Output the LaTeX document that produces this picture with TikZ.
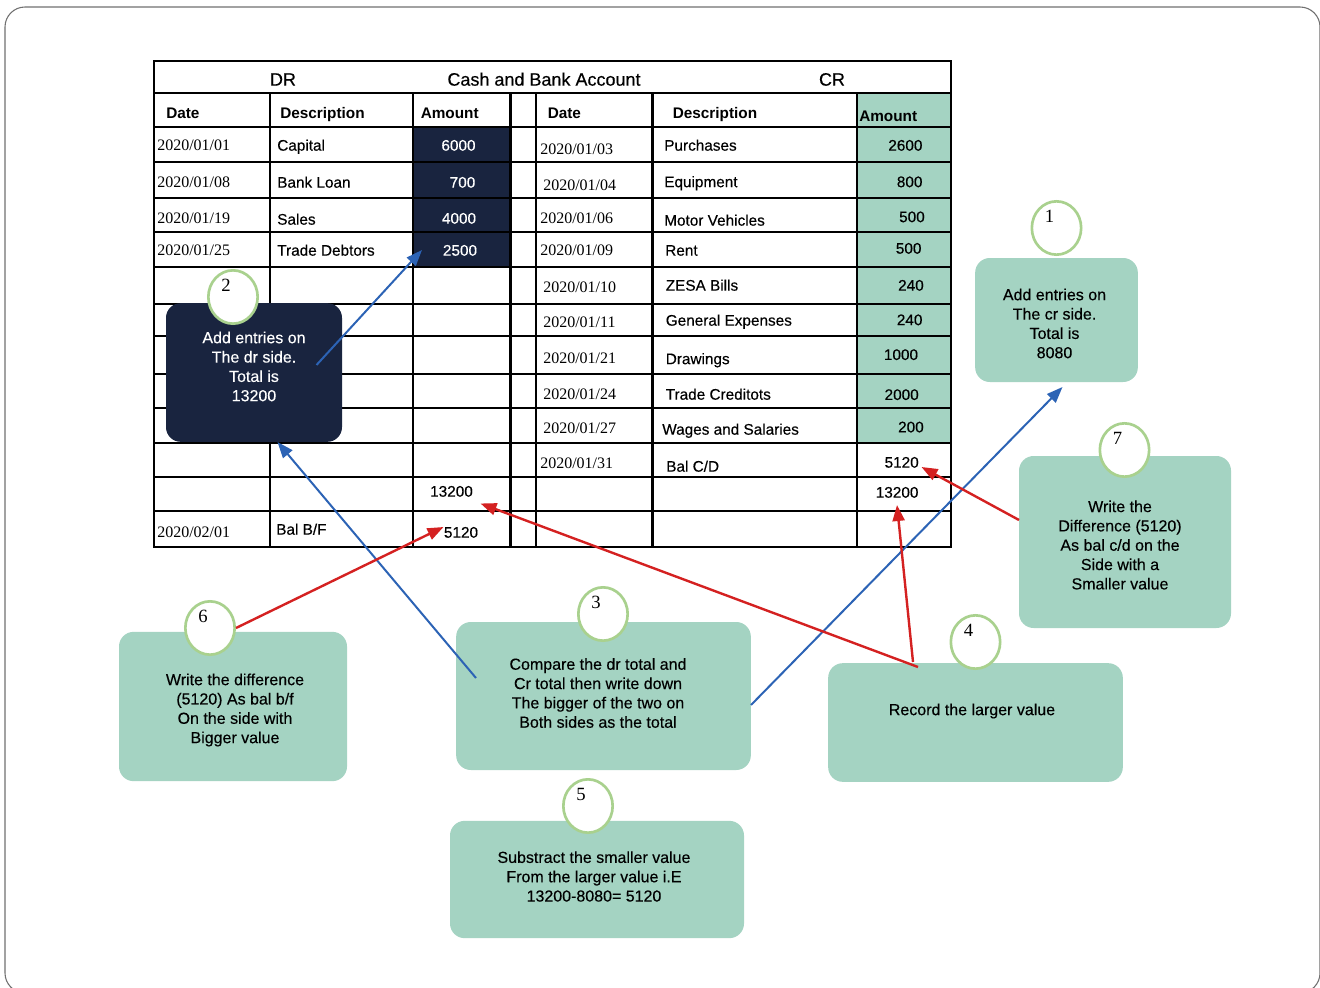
\documentclass[tikz,border=0pt]{standalone}
\usepackage{fontspec}
\setmainfont{Liberation Sans}
\newfontfamily\medsans{Liberation Sans}[FakeBold=0.3]
\newfontfamily\datefont{Liberation Serif}
\usepackage{tikz}
\usetikzlibrary{shapes.geometric,arrows.meta}
\definecolor{navy}{HTML}{19243F}
\definecolor{mint}{HTML}{A4D3C2}
\definecolor{ringgreen}{HTML}{A9D18E}
\definecolor{arrowblue}{HTML}{2C63B5}
\definecolor{arrowred}{HTML}{D42121}
\definecolor{framegray}{HTML}{707070}
\tikzstyle{cell} = [inner sep=0pt, text height=8.5pt, text depth=2.5pt, yshift=-2pt, font=\fontsize{11.5}{13}\medsans]
\tikzstyle{headcell} = [cell, font=\fontsize{11.5}{13}\selectfont\bfseries]
\tikzstyle{datecell} = [inner sep=0pt, text height=8.5pt, text depth=2.5pt, yshift=-2pt, font=\fontsize{12}{14}\datefont]
\tikzstyle{navybox} = [fill=navy, rounded corners=11pt]
\tikzstyle{greenbox} = [fill=mint, rounded corners=11pt]
\tikzstyle{boxtext} = [align=center, inner sep=0pt, font=\fontsize{12}{14.5}\medsans]
\tikzstyle{ring} = [ellipse, draw=ringgreen, line width=2pt, fill=white, minimum width=37pt, minimum height=40pt]
\tikzstyle{ringnum} = [inner sep=0pt, font=\fontsize{14}{16}\datefont]
\tikzstyle{bluearrow} = [draw=arrowblue, line width=1.5pt, -{Triangle[length=12pt,width=9pt]}]
\tikzstyle{redarrow} = [draw=arrowred, line width=1.8pt, -{Triangle[length=12pt,width=9pt]}]

\begin{document}
\begin{tikzpicture}[x=0.75pt, y=-0.75pt]
      \useasboundingbox (0,0) rectangle (1320,988);
      \clip (0,0) rectangle (1320,988);
      \draw[framegray, line width=0.8pt, rounded corners=15pt] (5,7) rectangle (1320,993);

      % shaded amount columns
      \fill[navy] (413,127) rectangle (510.5,267);
      \fill[mint] (857,93) rectangle (951,443);

      % ruling of the account
      \draw[line width=2.2pt] (154,61) rectangle (951,547);
      \draw[line width=2.2pt] (154,93) -- (951,93) (154,127) -- (951,127)
            (154,162) -- (951,162) (154,198) -- (951,198)
            (154,232) -- (951,232) (154,267) -- (951,267)
            (154,304) -- (951,304) (154,336) -- (951,336)
            (154,374) -- (951,374) (154,408) -- (951,408)
            (154,443) -- (951,443) (154,477) -- (951,477)
            (154,511) -- (951,511);
      \draw[line width=2.2pt] (270,93) -- (270,547) (413,93) -- (413,547)
            (510.5,93) -- (510.5,547) (536,93) -- (536,547)
            (652.5,93) -- (652.5,547) (857,93) -- (857,547);

      \node[cell, font=\fontsize{13.5}{15}\medsans] (title-dr) at (283,79) {DR};
      \node[cell, font=\fontsize{13.5}{15}\medsans] (title-acc) at (544,79) {Cash and Bank Account};
      \node[cell, font=\fontsize{13.5}{15}\medsans] (title-cr) at (832,79) {CR};

      \node[headcell, anchor=west] (dr-h-date) at (166,112) {Date};
      \node[headcell, anchor=west] (dr-h-desc) at (280,112) {Description};
      \node[headcell, anchor=west] (dr-h-amt) at (420.5,112) {Amount};
      \node[headcell, anchor=west] (cr-h-date) at (547.5,112) {Date};
      \node[headcell, anchor=west] (cr-h-desc) at (672.5,112) {Description};
      \node[headcell, anchor=west] (cr-h-amt) at (859,115) {Amount};

      % dr side
      \node[datecell, anchor=west] (dr-date1) at (157,144) {2020/01/01};
      \node[datecell, anchor=west] (dr-date2) at (157,181) {2020/01/08};
      \node[datecell, anchor=west] (dr-date3) at (157,217) {2020/01/19};
      \node[datecell, anchor=west] (dr-date4) at (157,249) {2020/01/25};
      \node[datecell, anchor=west] (dr-date5) at (157,531) {2020/02/01};
      \node[cell, anchor=west] (dr-desc1) at (277,144) {Capital};
      \node[cell, anchor=west] (dr-desc2) at (277,181) {Bank Loan};
      \node[cell, anchor=west] (dr-desc3) at (277,218) {Sales};
      \node[cell, anchor=west] (dr-desc4) at (277,249) {Trade Debtors};
      \node[cell, anchor=west] (dr-desc5) at (276,528) {Bal B/F};
      \node[cell, text=white] (dr-amt1) at (458.5,144) {6000};
      \node[cell, text=white] (dr-amt2) at (462.5,181) {700};
      \node[cell, text=white] (dr-amt3) at (459,217) {4000};
      \node[cell, text=white] (dr-amt4) at (460,249) {2500};
      \node[cell] (dr-total) at (451.5,490) {13200};
      \node[cell] (dr-bal) at (461,531) {5120};

      % cr side
      \node[datecell, anchor=west] (cr-date1) at (540,148) {2020/01/03};
      \node[datecell, anchor=west] (cr-date2) at (543,183.5) {2020/01/04};
      \node[datecell, anchor=west] (cr-date3) at (540,216.5) {2020/01/06};
      \node[datecell, anchor=west] (cr-date4) at (540,249) {2020/01/09};
      \node[datecell, anchor=west] (cr-date5) at (543,286) {2020/01/10};
      \node[datecell, anchor=west] (cr-date6) at (543,321) {2020/01/11};
      \node[datecell, anchor=west] (cr-date7) at (543,356.5) {2020/01/21};
      \node[datecell, anchor=west] (cr-date8) at (543,393) {2020/01/24};
      \node[datecell, anchor=west] (cr-date9) at (543,427) {2020/01/27};
      \node[datecell, anchor=west] (cr-date10) at (540,461.5) {2020/01/31};
      \node[cell, anchor=west] (cr-desc1) at (664,144) {Purchases};
      \node[cell, anchor=west] (cr-desc2) at (664,180.5) {Equipment};
      \node[cell, anchor=west] (cr-desc3) at (664,219) {Motor Vehicles};
      \node[cell, anchor=west] (cr-desc4) at (665,249) {Rent};
      \node[cell, anchor=west] (cr-desc5) at (665.5,284) {ZESA Bills};
      \node[cell, anchor=west] (cr-desc6) at (665.5,319) {General Expenses};
      \node[cell, anchor=west] (cr-desc7) at (665.5,357.5) {Drawings};
      \node[cell, anchor=west] (cr-desc8) at (665.5,393) {Trade Creditots};
      \node[cell, anchor=west] (cr-desc9) at (662,428) {Wages and Salaries};
      \node[cell, anchor=west] (cr-desc10) at (666,465) {Bal C/D};
      \node[cell, anchor=east] (cr-amt1) at (922.7,144) {2600};
      \node[cell, anchor=east] (cr-amt2) at (922.7,180.5) {800};
      \node[cell, anchor=east] (cr-amt3) at (925,215.5) {500};
      \node[cell, anchor=east] (cr-amt4) at (921.7,247) {500};
      \node[cell, anchor=east] (cr-amt5) at (924,284) {240};
      \node[cell, anchor=east] (cr-amt6) at (922.7,318.5) {240};
      \node[cell, anchor=east] (cr-amt7) at (918.3,353.3) {1000};
      \node[cell, anchor=east] (cr-amt8) at (919,393.3) {2000};
      \node[cell, anchor=east] (cr-amt9) at (924,425.7) {200};
      \node[cell, anchor=east] (cr-bal) at (919,461) {5120};
      \node[cell, anchor=east] (cr-total) at (918.7,491) {13200};

      % step boxes
      \node[navybox, minimum width=132pt, minimum height=104pt] (box2) at (254,372.5) {};
      \node[greenbox, minimum width=122pt, minimum height=93pt] (box1) at (1056.5,320) {};
      \node[greenbox, minimum width=159pt, minimum height=129pt] (box7) at (1125,542) {};
      \node[greenbox, minimum width=171pt, minimum height=112pt] (box6) at (233,706.5) {};
      \node[greenbox, minimum width=221pt, minimum height=111pt] (box3) at (603.5,696) {};
      \node[greenbox, minimum width=220.5pt, minimum height=88pt] (box5) at (597,879.5) {};
      \node[greenbox, minimum width=221pt, minimum height=89pt] (box4) at (975.5,722.5) {};

      \node[boxtext, text=white] (box2-text) at (254,366.5) {Add entries on\\The dr side.\\Total is\\13200};
      \node[boxtext] (box1-text) at (1054.5,323.5) {Add entries on\\The cr side.\\Total is\\8080};
      \node[boxtext] (box7-text) at (1120,545) {Write the\\Difference (5120)\\As bal c/d on the\\Side with a\\Smaller value};
      \node[boxtext] (box6-text) at (235,710) {Write the difference\\(5120) As bal b/f\\On the side with\\Bigger value};
      \node[boxtext] (box3-text) at (598,693) {Compare the dr total and\\Cr total then write down\\The bigger of the two on\\Both sides as the total};
      \node[boxtext] (box5-text) at (594,876.5) {Substract the smaller value\\From the larger value i.E\\13200-8080= 5120};
      \node[boxtext] (box4-text) at (972,711) {Record the larger value};

      % numbered rings
      \node[ring] (ring1) at (1056.5,228) {};
      \node[ring] (ring2) at (233,297) {};
      \node[ring] (ring3) at (603,614) {};
      \node[ring] (ring4) at (975.5,642) {};
      \node[ring] (ring5) at (588,806) {};
      \node[ring] (ring6) at (210,628) {};
      \node[ring] (ring7) at (1124.5,450) {};
      \node[ringnum] (num1) at (1049.5,216) {1};
      \node[ringnum] (num2) at (226,285) {2};
      \node[ringnum] (num3) at (596,602) {3};
      \node[ringnum] (num4) at (968.5,630) {4};
      \node[ringnum] (num5) at (581,794) {5};
      \node[ringnum] (num6) at (203,616) {6};
      \node[ringnum] (num7) at (1117.5,438) {7};

      % arrow ends
      \coordinate (box2-start) at (316.5,365);
      \coordinate (dr-amt-tip) at (422,250);
      \coordinate (box3-start) at (476,678);
      \coordinate (box2-tip) at (277.5,442);
      \coordinate (box3-end) at (751,705);
      \coordinate (box1-tip) at (1062.5,387);
      \coordinate (box4-start-a) at (918,667);
      \coordinate (dr-total-tip) at (480.5,503.5);
      \coordinate (box4-start-b) at (913,662);
      \coordinate (cr-total-tip) at (897,505);
      \coordinate (box7-start) at (1019,520);
      \coordinate (cr-bal-tip) at (921.5,467);
      \coordinate (dr-bal-tip) at (443.5,527);

      \draw[bluearrow] (box2-start) -- (dr-amt-tip);
      \draw[bluearrow] (box3-start) -- (box2-tip);
      \draw[bluearrow] (box3-end) -- (box1-tip);
      \draw[redarrow] (box4-start-a) -- (dr-total-tip);
      \draw[redarrow] (box4-start-b) -- (cr-total-tip);
      \draw[redarrow] (box7-start) -- (cr-bal-tip);
      \draw[redarrow] (ring6.east) -- (dr-bal-tip);
\end{tikzpicture}
\end{document}
